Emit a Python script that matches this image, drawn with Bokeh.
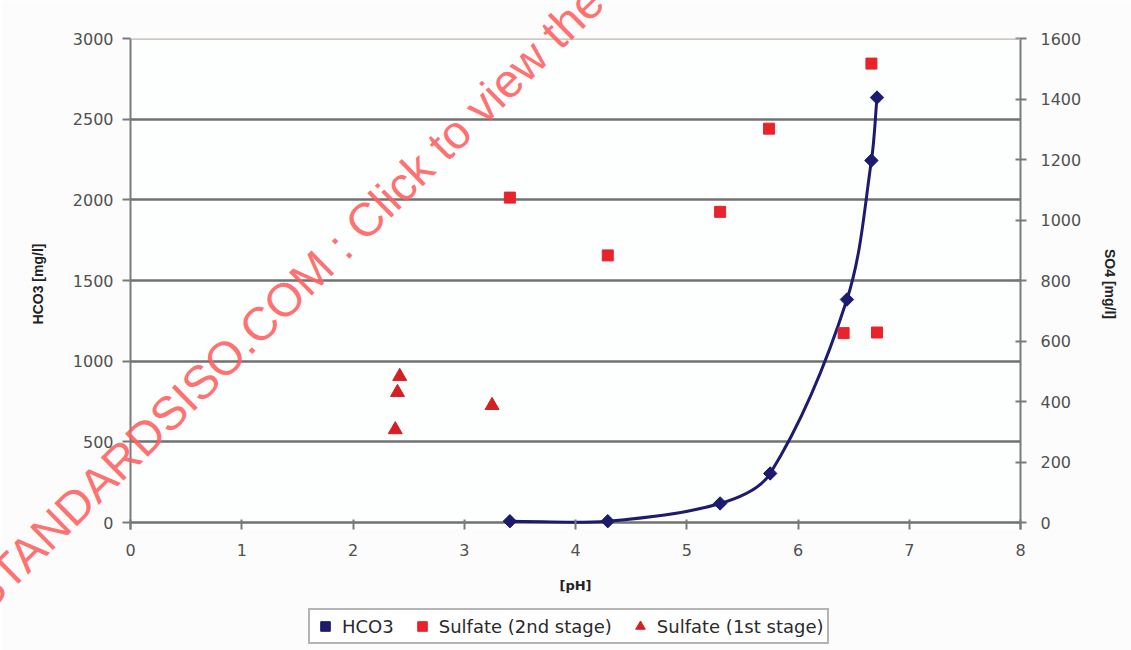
import numpy as np
from bokeh.plotting import figure
from bokeh.layouts import column
from bokeh.models import (Range1d, LinearAxis, FixedTicker, Legend, LegendItem,
                          Span)
from bokeh.core.properties import value
from bokeh.embed import file_html
from bokeh.resources import INLINE

# ---- data ----
ph_hco3 = [3.41, 4.29, 5.30, 5.75, 6.44, 6.66, 6.71]
hco3 = [8, 8, 118, 304, 1382, 2244, 2634]

ph_so4_2nd = [3.41, 4.29, 5.30, 5.74, 6.41, 6.66, 6.71]
so4_2nd = [1074, 883, 1027, 1302, 626, 1517, 628]

ph_so4_1st = [2.42, 2.40, 2.38, 3.25]
so4_1st = [483, 430, 307, 387]

x_ticks = [0, 1, 2, 3, 4, 5, 6, 7, 8]
left_ticks = [0, 500, 1000, 1500, 2000, 2500, 3000]
right_ticks = [0, 200, 400, 600, 800, 1000, 1200, 1400, 1600]

series_names = ["HCO3", "Sulfate (2nd stage)", "Sulfate (1st stage)"]
watermark = "STANDARDSISO.COM : Click to view the full PDF of ISO 11771"

# ---- layout ----
W, H = 1131, 650
LEG_H = 44
PH = H - LEG_H
B_LEFT, B_RIGHT, B_TOP = 130, 111, 38
FRAME_BOTTOM = 529
B_BOTTOM = PH - FRAME_BOTTOM
FRAME_W = W - B_LEFT - B_RIGHT
FRAME_H = FRAME_BOTTOM - B_TOP
LEFT_MAX, RIGHT_MAX = 3000, 1600
ZERO_OFFSET_PX = 7  # zero line sits a few px above the frame bottom
pad = LEFT_MAX * ZERO_OFFSET_PX / (FRAME_H - ZERO_OFFSET_PX)

navy = "#1c1b6e"
red2 = "#e8232b"
red1 = "#d42024"
bg = "#fcfcfc"

p = figure(width=W, height=PH, output_backend="svg", toolbar_location=None,
           x_range=Range1d(0, 8), y_range=Range1d(-pad, LEFT_MAX),
           min_border_left=B_LEFT, min_border_right=B_RIGHT,
           min_border_top=B_TOP, min_border_bottom=B_BOTTOM)
p.extra_y_ranges = {"so4": Range1d(-pad * RIGHT_MAX / LEFT_MAX, RIGHT_MAX)}

p.background_fill_color = "#fdfefe"
p.border_fill_color = bg
p.outline_line_color = None

axis_col = "#7a7a7a"
tick_font = "DejaVu Sans"

# x axis (its line is the zero grid line)
xa = p.xaxis[0]
xa.ticker = FixedTicker(ticks=x_ticks)
xa.axis_label = "[pH]"
xa.axis_label_text_font = "DejaVu Sans"
xa.axis_label_text_font_style = "bold"
xa.axis_label_text_font_size = "13px"
xa.axis_label_text_color = "#222222"
xa.axis_label_standoff = 19
xa.major_label_standoff = 14
xa.major_label_text_font = tick_font
xa.major_label_text_font_size = "16px"
xa.major_label_text_color = "#505050"
xa.axis_line_color = None
xa.major_tick_line_color = axis_col
xa.major_tick_line_width = 2
xa.major_tick_in = 10
xa.major_tick_out = 0
xa.minor_tick_line_color = None

# left axis
ya = p.yaxis[0]
ya.ticker = FixedTicker(ticks=left_ticks)
ya.axis_label = "HCO3 [mg/l]"
ya.axis_label_text_font = "Liberation Sans"
ya.axis_label_text_font_style = "bold"
ya.axis_label_text_font_size = "14px"
ya.axis_label_text_color = "#222222"
ya.axis_label_standoff = 24
ya.major_label_standoff = 9
ya.major_label_text_font = tick_font
ya.major_label_text_font_size = "16px"
ya.major_label_text_color = "#505050"
ya.axis_line_color = axis_col
ya.axis_line_width = 2
ya.major_tick_line_color = axis_col
ya.major_tick_line_width = 2
ya.major_tick_in = 0
ya.major_tick_out = 8
ya.minor_tick_line_color = None

# right axis
ra = LinearAxis(y_range_name="so4", ticker=FixedTicker(ticks=right_ticks),
                axis_label="SO4 [mg/l]")
ra.axis_label_text_font = "Liberation Sans"
ra.axis_label_text_font_style = "bold"
ra.axis_label_text_font_size = "14px"
ra.axis_label_text_color = "#222222"
ra.axis_label_standoff = 18
ra.major_label_standoff = 14
ra.major_label_text_font = tick_font
ra.major_label_text_font_size = "16px"
ra.major_label_text_color = "#505050"
ra.axis_line_color = axis_col
ra.axis_line_width = 2
ra.major_tick_line_color = axis_col
ra.major_tick_line_width = 2
ra.major_tick_in = 5
ra.major_tick_out = 6
ra.minor_tick_line_color = None
p.add_layout(ra, "right")

# grid
p.xgrid.grid_line_color = None
p.ygrid.ticker = FixedTicker(ticks=left_ticks[:-1])
p.ygrid.grid_line_color = "#717171"
p.ygrid.grid_line_width = 2.5
p.add_layout(Span(location=LEFT_MAX, dimension="width", line_color="#bdb6ae",
                  line_width=2.5))

# ---- HCO3 smoothed line: chord-length Hermite curve through the points ----
sx = FRAME_W / 8.0
sy = FRAME_H / (LEFT_MAX + pad)
P = np.column_stack([np.array(ph_hco3) * sx, np.array(hco3, dtype=float) * sy])
n = len(P)
d = np.linalg.norm(np.diff(P, axis=0), axis=1)
T = np.zeros_like(P)
T[0] = (P[1] - P[0]) / d[0]
T[-1] = (P[-1] - P[-2]) / d[-1]
for i in range(1, n - 1):
    T[i] = (P[i + 1] - P[i - 1]) / (d[i - 1] + d[i])
C0 = P[:-1] + T[:-1] * d[:, None] / 3.0
C1 = P[1:] - T[1:] * d[:, None] / 3.0

p.bezier(x0=P[:-1, 0] / sx, y0=P[:-1, 1] / sy, x1=P[1:, 0] / sx, y1=P[1:, 1] / sy,
         cx0=C0[:, 0] / sx, cy0=C0[:, 1] / sy, cx1=C1[:, 0] / sx, cy1=C1[:, 1] / sy,
         line_color=navy, line_width=3)

p.scatter(ph_hco3, hco3, marker="square", angle=45, angle_units="deg",
          size=9.5, fill_color=navy, line_color=navy)
p.scatter(ph_so4_2nd, so4_2nd, y_range_name="so4", marker="square",
          size=11, fill_color=red2, line_color=red2)
p.scatter(ph_so4_1st, so4_1st, y_range_name="so4", marker="triangle",
          size=14, fill_color=red1, line_color=red1)

# watermark (overlay level so that it spans the whole chart)
p.text(x=[-1.39], y=[-496], text=[watermark], angle=44.5, angle_units="deg",
       text_font=value("Liberation Sans"), text_font_size=value("47px"),
       text_color="#ff5f5f", text_alpha=0.9, text_baseline="alphabetic",
       text_align="left", level="overlay")

# ---- legend strip below the chart (its frame is aligned with the chart's) ----
q = figure(width=W, height=LEG_H, output_backend="svg", toolbar_location=None,
           x_axis_location=None, y_axis_location=None, min_border=0,
           x_range=Range1d(0, 1), y_range=Range1d(0, 1))
q.grid.visible = False
q.outline_line_color = None
q.background_fill_color = bg
q.border_fill_color = bg

# key renderers: same series, lying outside this strip's ranges
k1 = q.scatter(ph_hco3, hco3, marker="square", angle=45, angle_units="deg",
               fill_color=navy, line_color=navy)
k2 = q.scatter(ph_so4_2nd, so4_2nd, marker="square", fill_color=red2,
               line_color=red2)
k3 = q.scatter(ph_so4_1st, so4_1st, marker="triangle", fill_color=red1,
               line_color=red1)

legend = Legend(items=[LegendItem(label=series_names[0], renderers=[k1]),
                       LegendItem(label=series_names[1], renderers=[k2]),
                       LegendItem(label=series_names[2], renderers=[k3])],
                orientation="horizontal", location=(178, 6))
legend.label_text_font = "DejaVu Sans"
legend.label_text_font_size = "18px"
legend.label_text_color = "#2a2a2a"
legend.border_line_color = "#6a6a6a"
legend.border_line_width = 2
legend.background_fill_color = "#ffffff"
legend.background_fill_alpha = 1.0
legend.glyph_width = 24
legend.glyph_height = 26
legend.label_height = 20
legend.label_standoff = 5
legend.spacing = 16
legend.padding = 3
legend.margin = 0
q.add_layout(legend, "center")

layout = column(p, q, spacing=0)
open("out.html", "w").write(file_html(layout, INLINE))
